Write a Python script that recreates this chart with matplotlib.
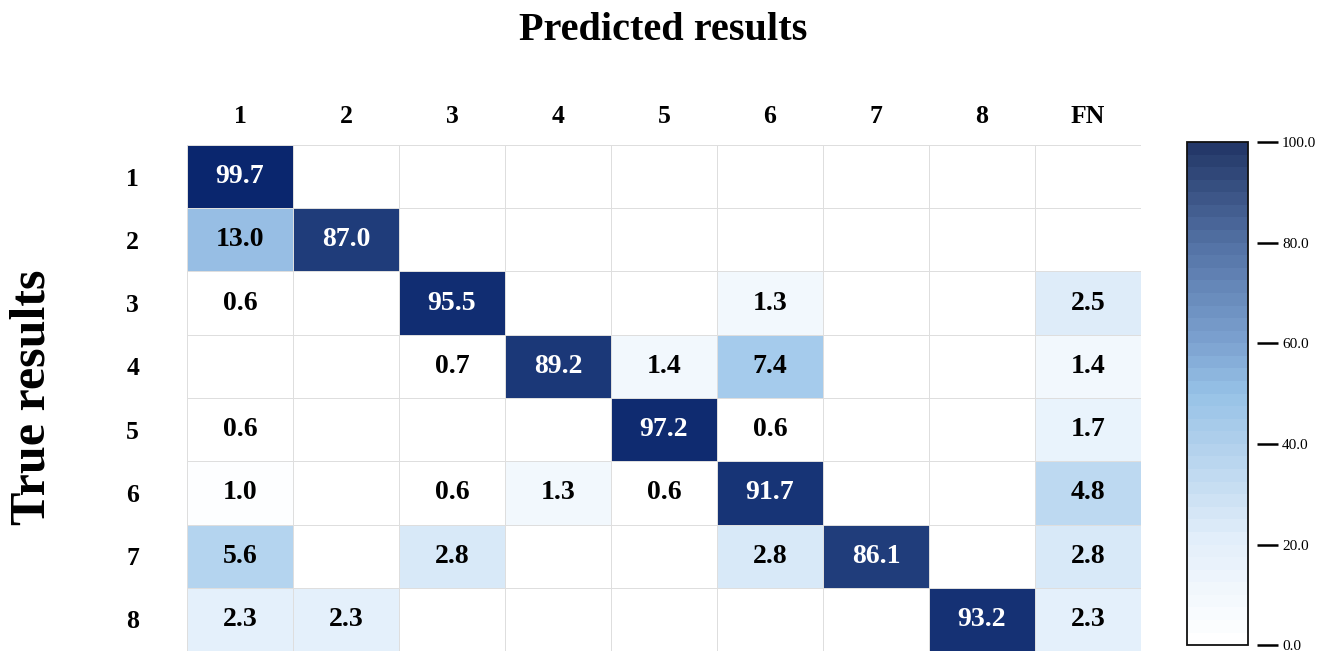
import numpy as np
import matplotlib
matplotlib.use("Agg")
import matplotlib.pyplot as plt
from matplotlib.colors import LinearSegmentedColormap, Normalize
from matplotlib.cm import ScalarMappable

plt.rcParams['font.family'] = ['Liberation Serif', 'DejaVu Serif']

# Confusion matrix (percent), rows = true class, columns = predicted class + FN
pred_labels = ['1', '2', '3', '4', '5', '6', '7', '8', 'FN']
true_labels = ['1', '2', '3', '4', '5', '6', '7', '8']

row_1 = [99.7, 0, 0, 0, 0, 0, 0, 0, 0]
row_2 = [13.0, 87.0, 0, 0, 0, 0, 0, 0, 0]
row_3 = [0.6, 0, 95.5, 0, 0, 1.3, 0, 0, 2.5]
row_4 = [0, 0, 0.7, 89.2, 1.4, 7.4, 0, 0, 1.4]
row_5 = [0.6, 0, 0, 0, 97.2, 0.6, 0, 0, 1.7]
row_6 = [1.0, 0, 0.6, 1.3, 0.6, 91.7, 0, 0, 4.8]
row_7 = [5.6, 0, 2.8, 0, 0, 2.8, 86.1, 0, 2.8]
row_8 = [2.3, 2.3, 0, 0, 0, 0, 0, 93.2, 2.3]

cbar_ticks = [0, 20, 40, 60, 80, 100]

matrix = np.array([row_1, row_2, row_3, row_4, row_5, row_6, row_7, row_8])

# Colour ramp for the cells (anchored in percent units, 0..100)
cell_nodes = [
    (0.000, (1.00, 1.00, 1.00)),
    (0.007, (1.00, 1.00, 1.00)),
    (0.014, (0.925, 0.960, 0.990)),
    (0.028, (0.845, 0.910, 0.972)),
    (0.050, (0.725, 0.843, 0.941)),
    (0.075, (0.630, 0.784, 0.922)),
    (0.130, (0.590, 0.745, 0.894)),
    (0.870, (0.120, 0.235, 0.480)),
    (1.000, (0.040, 0.150, 0.430)),
]
cell_cmap = LinearSegmentedColormap.from_list('cells', cell_nodes)

# Colour ramp shown in the colour bar
bar_nodes = [
    (0.0, (1.00, 1.00, 1.00)),
    (0.2, (0.890, 0.935, 0.980)),
    (0.4, (0.690, 0.815, 0.925)),
    (0.5, (0.590, 0.760, 0.905)),
    (0.6, (0.490, 0.640, 0.820)),
    (0.8, (0.330, 0.450, 0.650)),
    (1.0, (0.140, 0.220, 0.410)),
]
bar_cmap = LinearSegmentedColormap.from_list('bar', bar_nodes, N=40)

norm = Normalize(vmin=0, vmax=100)

fig = plt.figure(figsize=(13.35, 6.56), dpi=100)
ax = fig.add_axes([0.1401, 0.0076, 0.7146, 0.7714])

nrows, ncols = matrix.shape
ax.pcolormesh(np.arange(ncols + 1), np.arange(nrows + 1), matrix,
              cmap=cell_cmap, norm=norm, edgecolors='#dedede', linewidth=0.7)
ax.set_xlim(0, ncols)
ax.set_ylim(nrows, 0)

for i in range(nrows):
    for j in range(ncols):
        v = matrix[i, j]
        if v > 0:
            color = 'white' if v > 50 else 'black'
            ax.text(j + 0.5, i + 0.5, f'{v:.1f}', ha='center', va='center',
                    fontsize=20, fontweight='bold', color=color)

ax.xaxis.tick_top()
ax.set_xticks(np.arange(ncols) + 0.5)
ax.set_xticklabels(pred_labels, fontsize=18.5, fontweight='bold')
ax.set_yticks(np.arange(nrows) + 0.5)
ax.set_yticklabels(true_labels, fontsize=18.5, fontweight='bold')
ax.tick_params(axis='x', length=0, pad=12.5)
ax.tick_params(axis='y', length=0, pad=34.5)
for s in ax.spines.values():
    s.set_visible(False)

fig.text(0.497, 0.953, 'Predicted results', ha='center', va='center',
         fontsize=29, fontweight='bold')
fig.text(0.024, 0.395, 'True results', ha='center', va='center',
         rotation=90, fontsize=36, fontweight='bold')

# Colour bar
cax = fig.add_axes([0.8891, 0.0165, 0.0457, 0.7670])
cb = fig.colorbar(ScalarMappable(norm=norm, cmap=bar_cmap), cax=cax,
                  ticks=cbar_ticks)
cb.outline.set_linewidth(1.3)
cb.outline.set_edgecolor('#111111')
cax.spines['right'].set_position(('outward', 6.5))
cax.tick_params(axis='y', length=15, width=1.8, pad=3, labelsize=11,
                color='black')
cb.set_ticklabels([f'{t:.1f}' for t in cbar_ticks])

fig.savefig('out.png', dpi=100)
